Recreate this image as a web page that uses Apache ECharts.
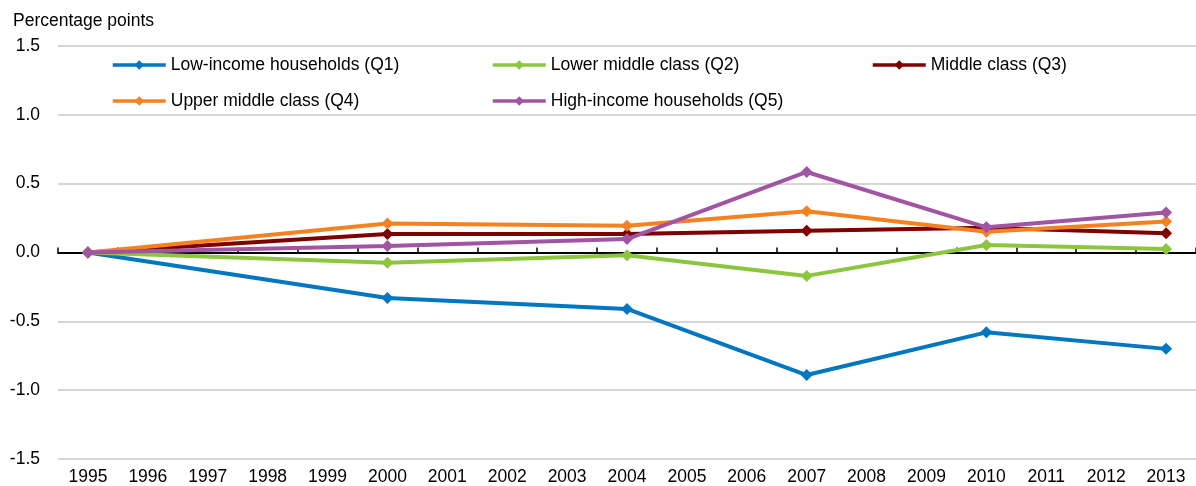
<!DOCTYPE html>
<html>
<head>
<meta charset="utf-8">
<script src="https://cdn.jsdelivr.net/npm/echarts@6/dist/echarts.min.js"></script>
<style>
html,body{margin:0;padding:0;background:#fff;}
#chart{width:1196px;height:486px;}
</style>
</head>
<body>
<div id="chart"></div>
<script>
const years = ['1995','1996','1997','1998','1999','2000','2001','2002','2003','2004','2005','2006','2007','2008','2009','2010','2011','2012','2013'];
const seriesNames = ['Low-income households (Q1)','Lower middle class (Q2)','Middle class (Q3)','Upper middle class (Q4)','High-income households (Q5)'];
// values at 1995, 2000, 2004, 2007, 2010, 2013 (null where no observation)
const q1 = [0, null, null, null, null, -0.33, null, null, null, -0.41, null, null, -0.89, null, null, -0.58, null, null, -0.70];
const q2 = [0, null, null, null, null, -0.075, null, null, null, -0.02, null, null, -0.17, null, null, 0.055, null, null, 0.025];
const q3 = [0, null, null, null, null, 0.135, null, null, null, 0.135, null, null, 0.158, null, null, 0.18, null, null, 0.14];
const q4 = [0, null, null, null, null, 0.21, null, null, null, 0.195, null, null, 0.30, null, null, 0.15, null, null, 0.225];
const q5 = [0, null, null, null, null, 0.047, null, null, null, 0.098, null, null, 0.585, null, null, 0.183, null, null, 0.29];
const colors = ['#0077C0','#8CC63F','#7F0000','#F58220','#A054A2'];
const yTicks = {min: -1.5, max: 1.5, interval: 0.5};
const yTitle = 'Percentage points';

const FONT = '"Liberation Sans",Arial,sans-serif';
const FS = 17.5;
const allData = [q1,q2,q3,q4,q5];

const legendPos = [[111,56],[491,56],[871,56],[111,92],[491,92]];

const chart = echarts.init(document.getElementById('chart'), null, {renderer:'canvas'});
chart.setOption({
  animation:false,
  backgroundColor:'#fff',
  color: colors,
  title:{
    text: yTitle, left:13, top:12, padding:0,
    textStyle:{fontFamily:FONT, fontSize:FS, fontWeight:'normal', color:'#000'}
  },
  legend: seriesNames.map((n,i)=>({
    data:[n], left:legendPos[i][0], top:legendPos[i][1], padding:0,
    itemWidth:53, itemHeight:12,
    lineStyle:{width:3.5},
    textStyle:{fontFamily:FONT, fontSize:FS, color:'#000'}
  })),
  grid:{left:58, right:-7, top:46, bottom:27, containLabel:false},
  xAxis:[{
    type:'category', data:years, boundaryGap:true, position:'bottom',
    axisLine:{show:true, onZero:true, lineStyle:{color:'#000', width:2}},
    axisTick:{show:true, inside:true, length:5, interval:0, lineStyle:{color:'#000', width:1.5}},
    axisLabel:{show:false},
    splitLine:{show:false}
  },{
    type:'category', data:years, boundaryGap:true, position:'bottom',
    axisLine:{show:false, onZero:false},
    axisTick:{show:false},
    axisLabel:{show:true, interval:0, margin:9, color:'#000', fontFamily:FONT, fontSize:FS},
    splitLine:{show:false}
  }],
  yAxis:{
    type:'value', min:yTicks.min, max:yTicks.max, interval:yTicks.interval,
    axisLine:{show:false}, axisTick:{show:false},
    axisLabel:{margin:18, color:'#000', fontFamily:FONT, fontSize:FS, formatter:v=>v.toFixed(1)},
    splitLine:{show:true, lineStyle:{color:'#c8c8c8', width:1.5}}
  },
  series: seriesNames.map((n,i)=>({
    name:n, type:'line', xAxisIndex:0, data:allData[i], connectNulls:true,
    symbol:'diamond', symbolSize:12, showSymbol:true,
    lineStyle:{width:4, color:colors[i]},
    itemStyle:{color:colors[i]},
    z: 2+i
  }))
});
</script>
</body>
</html>
